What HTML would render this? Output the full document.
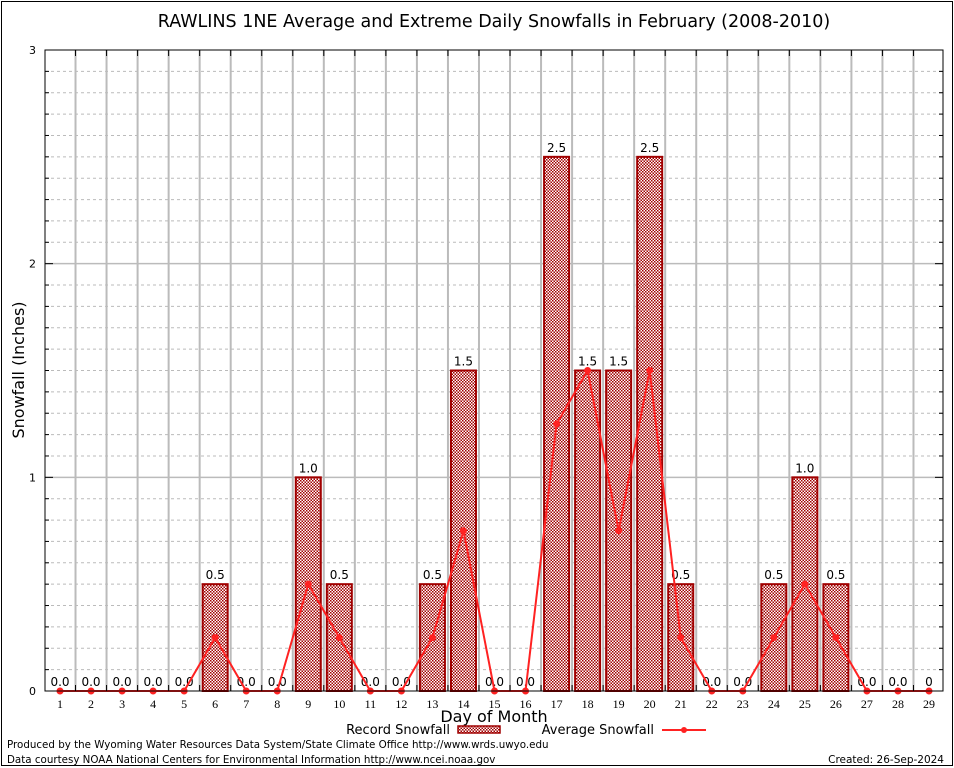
<!DOCTYPE html>
<html><head><meta charset="utf-8"><style>
body{margin:0;background:#fff;}
svg{display:block;font-family:"DejaVu Sans","Liberation Sans",sans-serif;}
</style></head><body>
<svg id="chart" width="954" height="768" xmlns="http://www.w3.org/2000/svg">
<defs>
<pattern id="chk" width="3" height="3" patternUnits="userSpaceOnUse">
<rect width="3" height="3" fill="#fff"/>
<rect width="1.5" height="1.5" fill="#a00000"/>
<rect x="1.5" y="1.5" width="1.5" height="1.5" fill="#a00000"/>
</pattern>
</defs>
<rect x="1.5" y="1.5" width="951" height="764" fill="none" stroke="#000" stroke-width="1"/>
<text x="494" y="27" font-size="17.5" text-anchor="middle">RAWLINS 1NE Average and Extreme Daily Snowfalls in February (2008-2010)</text>
<g id="grid"></g>
<g id="bars"></g>
<g id="line"></g>
<rect x="45" y="50" width="898" height="641" fill="none" stroke="#000" stroke-width="1"/>
<g id="ticks"></g>
<text transform="translate(24,370) rotate(-90)" font-size="16" text-anchor="middle">Snowfall (Inches)</text>
<text x="494" y="722" font-size="16" text-anchor="middle">Day of Month</text>
<g>
<text x="450" y="734" font-size="13" text-anchor="end">Record Snowfall</text>
<rect x="458" y="726" width="42" height="7" fill="url(#chk)" stroke="#a00000" stroke-width="1.5"/>
<text x="654" y="734" font-size="13" text-anchor="end">Average Snowfall</text>
<line x1="662" y1="730" x2="706" y2="730" stroke="#f22" stroke-width="2"/>
<circle cx="684" cy="730" r="3" fill="#f22"/>
</g>
<text x="7" y="748" font-size="10.3">Produced by the Wyoming Water Resources Data System/State Climate Office http://www.wrds.uwyo.edu</text>
<text x="7" y="763" font-size="10.3">Data courtesy NOAA National Centers for Environmental Information http://www.ncei.noaa.gov</text>
<text x="944" y="763" font-size="10.5" text-anchor="end">Created: 26-Sep-2024</text>
</svg>
<script>
const days=[1,2,3,4,5,6,7,8,9,10,11,12,13,14,15,16,17,18,19,20,21,22,23,24,25,26,27,28,29];
const recordSnow=[0,0,0,0,0,0.5,0,0,1,0.5,0,0,0.5,1.5,0,0,2.5,1.5,1.5,2.5,0.5,0,0,0.5,1,0.5,0,0,0];
const avgSnow=[0,0,0,0,0,0.25,0,0,0.5,0.25,0,0,0.25,0.75,0,0,1.25,1.5,0.75,1.5,0.25,0,0,0.25,0.5,0.25,0,0,0];
const recordLabels=["0.0","0.0","0.0","0.0","0.0","0.5","0.0","0.0","1.0","0.5","0.0","0.0","0.5","1.5","0.0","0.0","2.5","1.5","1.5","2.5","0.5","0.0","0.0","0.5","1.0","0.5","0.0","0.0","0"];
const yTicks=[0,1,2,3];
const NS="http://www.w3.org/2000/svg";
const X0=45,X1=943,Y0=691,Y1=50,YMAX=3;
const xs=d=>60+(d-1)*(929-60)/28;
const ys=v=>Y0-(v/YMAX)*(Y0-Y1);
function mk(tag,attrs,parent,text){const e=document.createElementNS(NS,tag);for(const k in attrs)e.setAttribute(k,attrs[k]);if(text!==undefined)e.textContent=text;document.getElementById(parent).appendChild(e);return e;}
for(let i=1;i<30;i++){const v=i/10;if(i%10===0){const g=mk('line',{x1:X0,x2:X1,y1:ys(v),y2:ys(v),stroke:'#bbb','stroke-width':1.5},'grid');}else{const g=mk('line',{x1:X0,x2:X1,y1:ys(v),y2:ys(v),stroke:'#bbb','stroke-width':1,'stroke-dasharray':'3,3'},'grid');}}
for(let i=0;i<days.length-1;i++){const x=(xs(days[i])+xs(days[i+1]))/2;const g=mk('line',{x1:x,x2:x,y1:Y1,y2:Y0,stroke:'#bbb','stroke-width':2},'grid');
const t=mk('line',{x1:x,x2:x,y1:Y1,y2:Y1+6,stroke:'#000'},'ticks');
const b=mk('line',{x1:x,x2:x,y1:Y0,y2:Y0-6,stroke:'#000'},'ticks');}
for(let i=1;i<30;i++){const v=i/10;const t=mk('line',{x1:X0,x2:X0+(i%10?4:8),y1:ys(v),y2:ys(v),stroke:'#000'},'ticks');
const t2=mk('line',{x1:X1,x2:X1-(i%10?4:8),y1:ys(v),y2:ys(v),stroke:'#000'},'ticks');}
yTicks.forEach(v=>{const t=mk('text',{x:36,y:ys(v)+4,'font-size':11,'text-anchor':'end'},'ticks',String(v));});
days.forEach((d,i)=>{const t=mk('text',{x:xs(d),y:708,'font-size':12,'text-anchor':'middle','font-family':'Liberation Serif, serif'},'ticks',String(d));
if(recordSnow[i]>0){const r=mk('rect',{x:xs(d)-12.5,y:ys(recordSnow[i]),width:25,height:Y0-ys(recordSnow[i]),fill:'url(#chk)',stroke:'#a00000','stroke-width':2},'bars');}
const l=mk('text',{x:xs(d),y:ys(recordSnow[i])-5,'font-size':12,'text-anchor':'middle'},'bars',recordLabels[i]);});
const p=mk('polyline',{points:days.map((d,i)=>xs(d)+','+ys(avgSnow[i])).join(' '),fill:'none',stroke:'#f22','stroke-width':2},'line');
days.forEach((d,i)=>{const c=mk('circle',{cx:xs(d),cy:ys(avgSnow[i]),r:3.5,fill:'#f22'},'line');});
</script>
</body></html>
